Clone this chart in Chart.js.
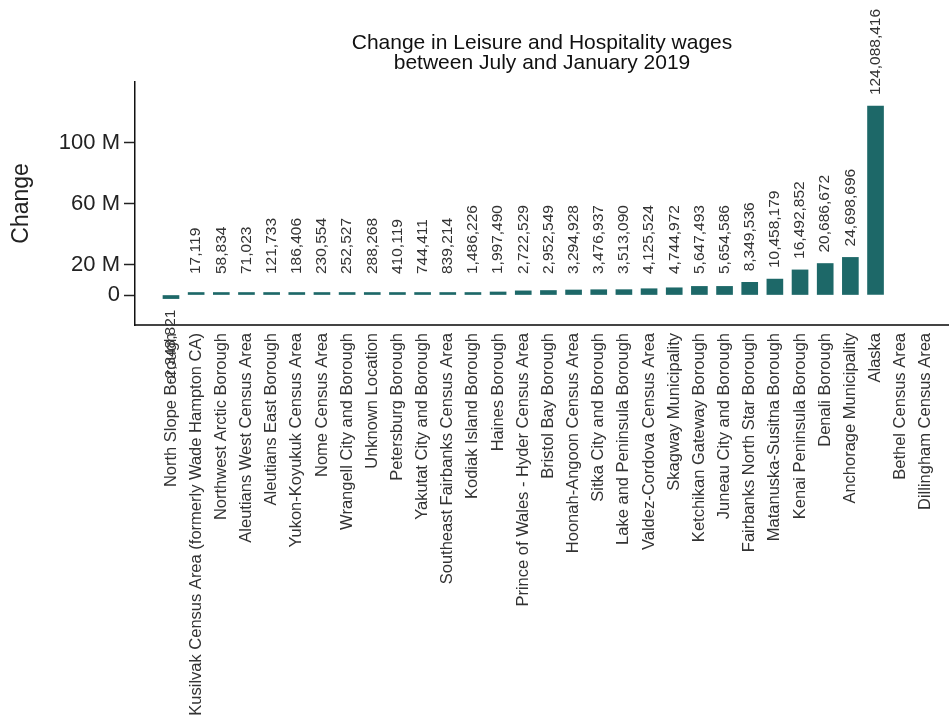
<!DOCTYPE html>
<html>
<head>
<meta charset="utf-8">
<script src="https://cdn.jsdelivr.net/npm/chart.js@4.4.1/dist/chart.umd.min.js"></script>
<style>
  html, body { margin: 0; padding: 0; background: #fff; }
  #wrap { width: 949px; height: 719px; }
</style>
</head>
<body>
<div id="wrap"><canvas id="chart" width="949" height="719"></canvas></div>
<script>
// 数据：从图上读出来的（North Slope 的值重叠难辨，估的）
const categories = [
  'North Slope Borough',
  'Kusilvak Census Area (formerly Wade Hampton CA)',
  'Northwest Arctic Borough',
  'Aleutians West Census Area',
  'Aleutians East Borough',
  'Yukon-Koyukuk Census Area',
  'Nome Census Area',
  'Wrangell City and Borough',
  'Unknown Location',
  'Petersburg Borough',
  'Yakutat City and Borough',
  'Southeast Fairbanks Census Area',
  'Kodiak Island Borough',
  'Haines Borough',
  'Prince of Wales - Hyder Census Area',
  'Bristol Bay Borough',
  'Hoonah-Angoon Census Area',
  'Sitka City and Borough',
  'Lake and Peninsula Borough',
  'Valdez-Cordova Census Area',
  'Skagway Municipality',
  'Ketchikan Gateway Borough',
  'Juneau City and Borough',
  'Fairbanks North Star Borough',
  'Matanuska-Susitna Borough',
  'Kenai Peninsula Borough',
  'Denali Borough',
  'Anchorage Municipality',
  'Alaska',
  'Bethel Census Area',
  'Dillingham Census Area',
];
const changeValues = [
  -2348821, 17119, 58834, 71023, 121733, 186406, 230554, 252527, 288268,
  410119, 744411, 839214, 1486226, 1997490, 2722529, 2952549, 3294928,
  3476937, 3513090, 4125524, 4744972, 5647493, 5654586, 8349536,
  10458179, 16492852, 20686672, 24698696, 124088416, null, null,
];
const yTickValues = [0, 20e6, 60e6, 100e6];

const FONT = '"Liberation Sans", Arial, sans-serif';
const BAR_COLOR = '#1d6868';

// 柱顶数值标签（竖排）
const valueLabels = {
  id: 'valueLabels',
  afterDatasetsDraw(chart) {
    const ctx = chart.ctx;
    const zeroY = chart.scales.y.getPixelForValue(0);
    const meta = chart.getDatasetMeta(0);
    ctx.save();
    ctx.font = '15.5px ' + FONT;
    ctx.fillStyle = '#333';
    ctx.textBaseline = 'middle';
    meta.data.forEach((el, i) => {
      const v = changeValues[i];
      if (v == null) return;
      const txt = v.toLocaleString('en-US');
      ctx.save();
      if (v >= 0) {
        ctx.translate(el.x, Math.min(el.y - 11, zeroY - 21));
        ctx.rotate(-Math.PI / 2);
        ctx.textAlign = 'left';
      } else {
        ctx.translate(el.x, el.y + 11);
        ctx.rotate(-Math.PI / 2);
        ctx.textAlign = 'right';
      }
      ctx.fillText(txt, 0, 0);
      ctx.restore();
    });
    ctx.restore();
  },
};

new Chart(document.getElementById('chart'), {
  type: 'bar',
  data: {
    datasets: [{
      label: 'Change',
      data: changeValues.map((v, i) => ({ x: i, y: v })),
      backgroundColor: BAR_COLOR,
      borderWidth: 0,
      barThickness: 16,
      minBarLength: 2.5,
    }],
  },
  options: {
    responsive: false,
    animation: false,
    layout: { padding: { left: 0, right: 0, top: 0, bottom: 0 } },
    plugins: {
      legend: { display: false },
      tooltip: { enabled: false },
      title: {
        display: true,
        fullSize: false,
        text: ['Change in Leisure and Hospitality wages', 'between July and January 2019'],
        color: '#111',
        font: { family: FONT, size: 21, weight: 'normal', lineHeight: 0.95 },
        padding: { top: 33, bottom: 9 },
      },
    },
    scales: {
      x: {
        type: 'linear',
        offset: false,
        min: -1.43,
        max: 30.92,
        grid: { display: false, drawTicks: false },
        border: { display: true, color: '#444', width: 2 },
        afterBuildTicks: (s) => { s.ticks = categories.map((c, i) => ({ value: i })); },
        afterFit: (s) => { s.height = 394; s.paddingLeft = 0; s.paddingRight = 0; },
        ticks: {
          autoSkip: false,
          minRotation: 90,
          maxRotation: 90,
          padding: 8,
          color: '#333',
          font: { family: FONT, size: 16.5 },
          callback: (v) => categories[v],
        },
      },
      y: {
        min: -19.7e6,
        max: 140e6,
        afterBuildTicks: (s) => { s.ticks = yTickValues.map(v => ({ value: v })); },
        afterFit: (s) => { s.width = 135; },
        grid: { display: true, drawOnChartArea: false, tickLength: 11, tickColor: '#222', tickWidth: 1.5 },
        border: { display: true, color: '#111', width: 1.5 },
        ticks: {
          padding: 4,
          color: '#222',
          font: { family: FONT, size: 22 },
          callback: (v) => v === 0 ? '0' : (v / 1e6) + ' M',
        },
        title: {
          display: true,
          text: 'Change',
          color: '#222',
          font: { family: FONT, size: 23 },
          padding: { top: 8, bottom: 0 },
        },
      },
    },
  },
  plugins: [valueLabels],
});
</script>
</body>
</html>
